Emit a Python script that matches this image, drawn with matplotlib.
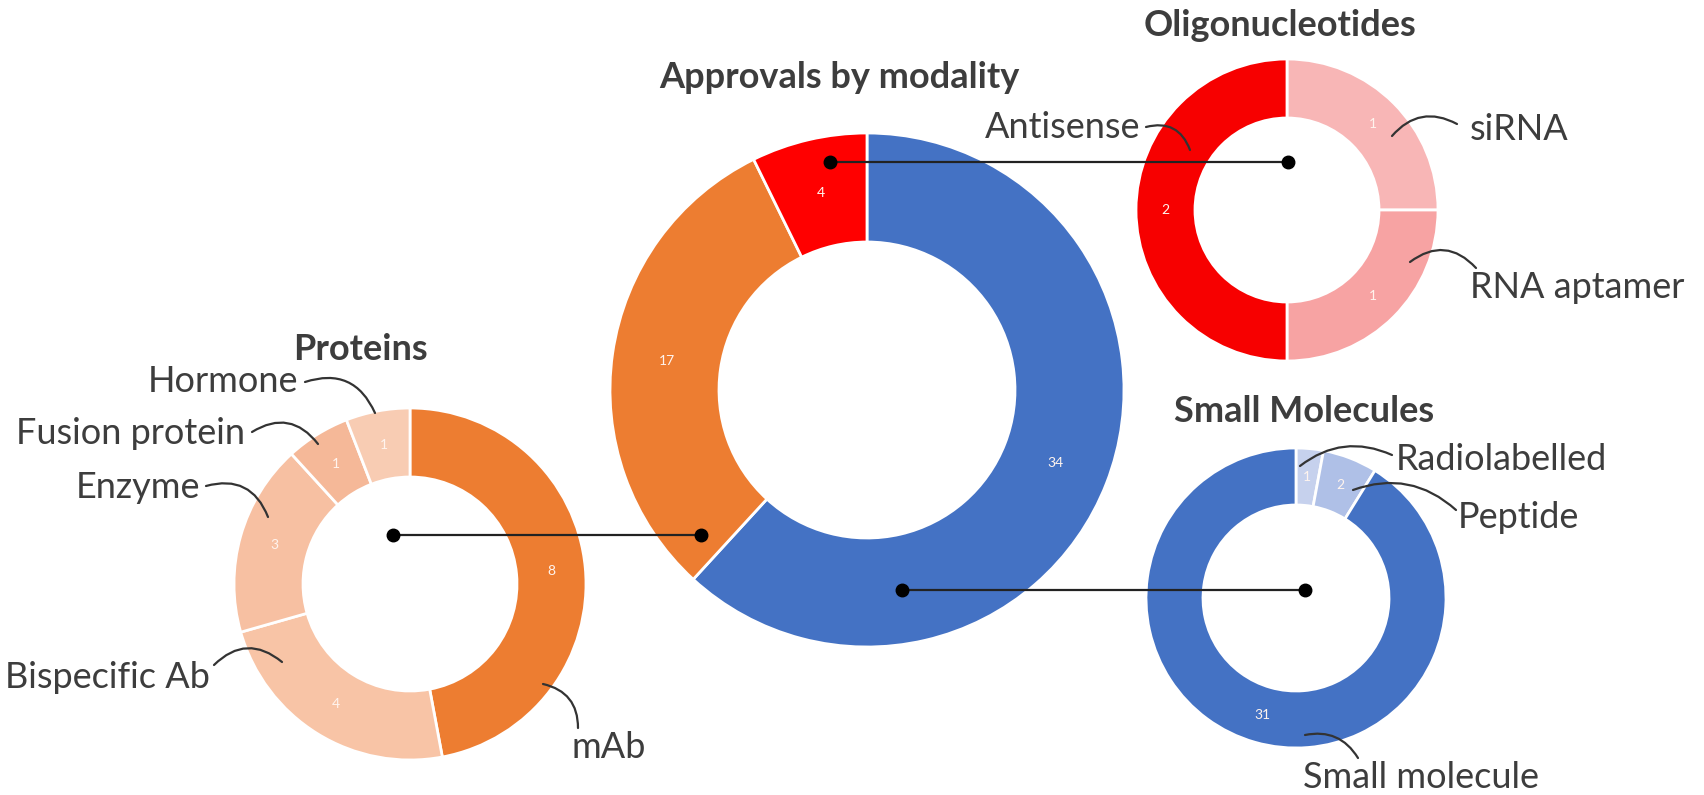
import numpy as np
import matplotlib
matplotlib.use("Agg")
import matplotlib.pyplot as plt

plt.rcParams['font.family'] = ['Lato', 'DejaVu Sans']

W, H = 1704, 795

# ---- data ----
main_labels = ["Small Molecules", "Proteins", "Oligonucleotides"]
main_values = [34, 17, 4]
protein_labels = ["mAb", "Bispecific Ab", "Enzyme", "Fusion protein", "Hormone"]
protein_values = [8, 4, 3, 1, 1]
oligo_labels = ["siRNA", "RNA aptamer", "Antisense"]
oligo_values = [1, 1, 2]
small_labels = ["Radiolabelled", "Peptide", "Small molecule"]
small_values = [1, 2, 31]

# ---- colours ----
main_colors = ["#4472C4", "#ED7D31", "#FF0000"]
protein_colors = ["#ED7D31", "#F8C4A6", "#F7C0A2", "#F5B898", "#F8CCB3"]
oligo_colors = ["#F8B6B6", "#F7A3A3", "#F70000"]
small_colors = ["#C6D1ED", "#AFC0E7", "#4472C4"]

TXT = "#3d3d3d"


def pt(x, y):
    # layout is written in image pixels, y going down
    return (x, H - y)


def donut(ax, values, colors, cx, cy, R, r):
    wedges, _ = ax.pie(values, colors=colors, radius=R, center=pt(cx, cy),
                       startangle=90, counterclock=False,
                       wedgeprops=dict(width=R - r, edgecolor="white", linewidth=2))
    rm = (R + r) / 2
    for w, v in zip(wedges, values):
        a = np.deg2rad((w.theta1 + w.theta2) / 2)
        ax.text(w.center[0] + rm * np.cos(a), w.center[1] + rm * np.sin(a), str(v),
                ha="center", va="center", fontsize=10, color="#fff4ee")
    return wedges


def leader(ax, start, end, rad):
    ax.annotate("", xy=pt(*end), xytext=pt(*start),
                arrowprops=dict(arrowstyle="-", color="#333333", lw=1.6,
                                connectionstyle="arc3,rad=%s" % rad,
                                shrinkA=0, shrinkB=0))


fig = plt.figure(figsize=(W / 100, H / 100), dpi=100)
ax = fig.add_axes([0, 0, 1, 1])

donut(ax, main_values, main_colors, 867, 390, 257, 148)
donut(ax, protein_values, protein_colors, 410, 584, 176, 107)
donut(ax, oligo_values, oligo_colors, 1287, 210, 151, 92)
donut(ax, small_values, small_colors, 1296, 598, 150, 93)

# connectors between the main ring and the breakdown rings
links = [((830, 162), (1288, 162)),
         ((701, 535), (393, 535)),
         ((902, 590), (1305, 590))]
for a, b in links:
    (x1, y1), (x2, y2) = pt(*a), pt(*b)
    ax.plot([x1, x2], [y1, y2], color="#222222", lw=1.6, zorder=5)
    ax.plot([x1, x2], [y1, y2], "o", color="black", ms=9, zorder=6)

# titles
tfs = 26
ax.text(*pt(839, 78), "Approvals by modality", ha="center", va="center",
        fontsize=tfs, fontweight="bold", color=TXT)
ax.text(*pt(1280, 25), "Oligonucleotides", ha="center", va="center",
        fontsize=tfs, fontweight="bold", color=TXT)
ax.text(*pt(1304, 412), "Small Molecules", ha="center", va="center",
        fontsize=tfs, fontweight="bold", color=TXT)
ax.text(*pt(360, 350), "Proteins", ha="center", va="center",
        fontsize=tfs, fontweight="bold", color=TXT)

# segment labels: (text, x, y, ha, leader start, leader end, rad)
lfs = 26
seg_labels = [
    (protein_labels[4], 298, 382, "right", (305, 382), (375, 413), -0.45),
    (protein_labels[3], 245, 434, "right", (252, 432), (318, 444), -0.45),
    (protein_labels[2], 200, 487, "right", (206, 486), (268, 517), -0.45),
    (protein_labels[1], 210, 677, "right", (214, 665), (282, 662), -0.45),
    (protein_labels[0], 572, 748, "left", (543, 684), (578, 728), -0.4),
    (oligo_labels[2], 1140, 127, "right", (1146, 127), (1190, 150), -0.45),
    (oligo_labels[0], 1470, 130, "left", (1457, 124), (1392, 136), 0.4),
    (oligo_labels[1], 1470, 288, "left", (1476, 268), (1410, 262), 0.45),
    (small_labels[0], 1396, 460, "left", (1392, 455), (1300, 466), 0.3),
    (small_labels[1], 1458, 517, "left", (1456, 510), (1353, 490), 0.3),
    (small_labels[2], 1303, 777, "left", (1305, 735), (1358, 758), -0.35),
]
for text, x, y, ha, s, e, rad in seg_labels:
    ax.text(*pt(x, y), text, ha=ha, va="center", fontsize=lfs, color=TXT)
    leader(ax, s, e, rad)

ax.set_xlim(0, W)
ax.set_ylim(0, H)
ax.set_aspect("equal")
ax.axis("off")

fig.savefig("out.png", dpi=100, facecolor="white")
